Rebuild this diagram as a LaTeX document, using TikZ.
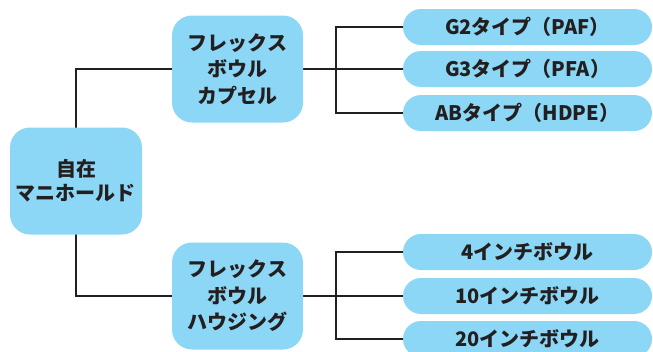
\documentclass[tikz,border=0pt]{standalone}
\usepackage{fontspec}
\newfontfamily\jp{Noto Sans CJK JP}
\usetikzlibrary{backgrounds}
\definecolor{boxblue}{HTML}{8CD7F5}
\definecolor{ink}{HTML}{231F20}
\begin{document}
\begin{tikzpicture}[x=1pt,y=-1pt,
  base/.style={fill=boxblue,draw=none,text=ink,align=center,inner sep=0pt,
    font=\jp\bfseries\fontsize{20}{24}\selectfont},
  rootbox/.style={base,minimum width=132pt,minimum height=107pt,rounded corners=20pt},
  midbox/.style={base,minimum width=131pt,minimum height=107pt,rounded corners=20pt,
    font=\jp\bfseries\fontsize{20}{26.5}\selectfont},
  leafbox/.style={base,minimum width=249pt,minimum height=36pt,rounded corners=18pt},
  conn/.style={draw=ink,line width=2pt}]
\useasboundingbox (0,0) rectangle (653,351);
\clip (0,0) rectangle (653,351);
\node[rootbox] (root) at (76,181) {自在\\マニホールド};
\node[midbox] (cap) at (237.5,69) {フレックス\\ボウル\\カプセル};
\node[midbox] (hou) at (237.5,296) {フレックス\\ボウル\\ハウジング};
\node[leafbox] (g2) at (527.5,27) {G2タイプ（PAF）};
\node[leafbox] (g3) at (527.5,69) {G3タイプ（PFA）};
\node[leafbox] (ab) at (527.5,113) {ABタイプ（HDPE）};
\node[leafbox] (i4) at (527.5,252) {4インチボウル};
\node[leafbox] (i10) at (527.5,296) {10インチボウル};
\node[leafbox] (i20) at (527.5,339) {20インチボウル};
\coordinate (j1) at (336,69);
\coordinate (j2) at (336,296);
\begin{scope}[on background layer]
\draw[conn] (cap.west) -| (root.center);
\draw[conn] (hou.west) -| (root.center);
\draw[conn] (cap.east) -- (j1);
\draw[conn] (g2.west) -| (j1) |- (ab.west);
\draw[conn] (j1) -- (g3.west);
\draw[conn] (hou.east) -- (j2);
\draw[conn] (i4.west) -| (j2) |- (i20.west);
\draw[conn] (j2) -- (i10.west);
\end{scope}
\end{tikzpicture}
\end{document}
